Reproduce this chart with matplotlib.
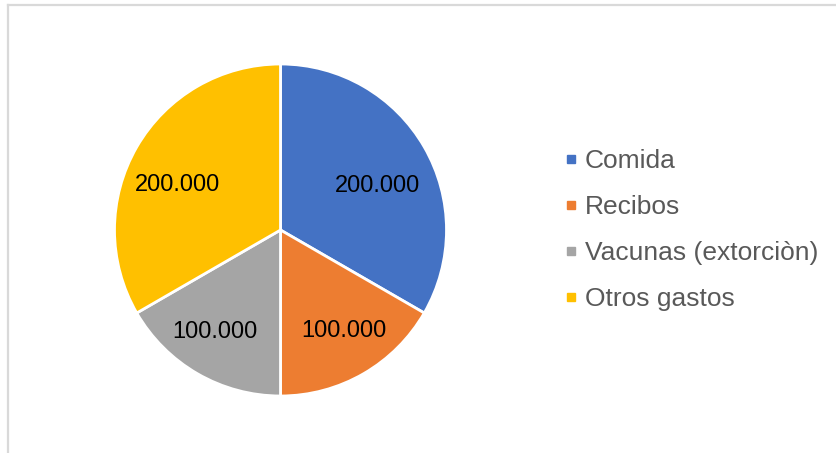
import matplotlib
matplotlib.use("Agg")
import matplotlib.pyplot as plt
from matplotlib.lines import Line2D
import numpy as np

categories = ["Comida", "Recibos", "Vacunas (extorciòn)", "Otros gastos"]
values = [200000, 100000, 100000, 200000]
value_labels = ["200.000", "100.000", "100.000", "200.000"]
colors = ["#4472C4", "#ED7D31", "#A5A5A5", "#FFC000"]

W, H = 837, 453
fig = plt.figure(figsize=(W / 100, H / 100), dpi=100)
plt.rcParams['font.family'] = ['Liberation Sans', 'DejaVu Sans']

# chart frame (partially visible: top and left)
fig.add_artist(Line2D([8 / W, 1.0], [1 - 5 / H, 1 - 5 / H], color="#D9D9D9", lw=1.6))
fig.add_artist(Line2D([8 / W, 8 / W], [1 - 5 / H, 0.0], color="#D9D9D9", lw=1.6))

cx, cy, r = 280.5, 230, 166
ax = fig.add_axes([(cx - r) / W, (H - cy - r) / H, 2 * r / W, 2 * r / H])
wedges, _ = ax.pie(values, colors=colors, startangle=90, counterclock=False,
                   wedgeprops=dict(edgecolor="white", linewidth=2.0))
ax.set_xlim(-1, 1)
ax.set_ylim(-1, 1)
ax.set_aspect("equal")
ax.axis("off")

# label placement (radial distance, angular offset in degrees) per wedge
dist = [0.64, 0.72, 0.73, 0.675]
ang_off = [-5.6, 2.0, -2.8, 6.3]
for w, lab, d, off in zip(wedges, value_labels, dist, ang_off):
    ang = np.deg2rad((w.theta1 + w.theta2) / 2 + off)
    ax.text(d * np.cos(ang), d * np.sin(ang), lab, ha="center", va="center",
            fontsize=17, color="black")

handles = [Line2D([], [], marker="s", linestyle="", color=c, markersize=5.8) for c in colors]
fs = 19
fig.legend(handles, categories, loc="center left",
           bbox_to_anchor=((571 - 0.2 * fs * 100 / 72) / W, 1 - 230 / H),
           frameon=False, fontsize=fs, labelcolor="#595959",
           handlelength=0.4, handletextpad=0.33, labelspacing=0.84,
           borderpad=0, borderaxespad=0)

fig.savefig("out.png", dpi=100)
